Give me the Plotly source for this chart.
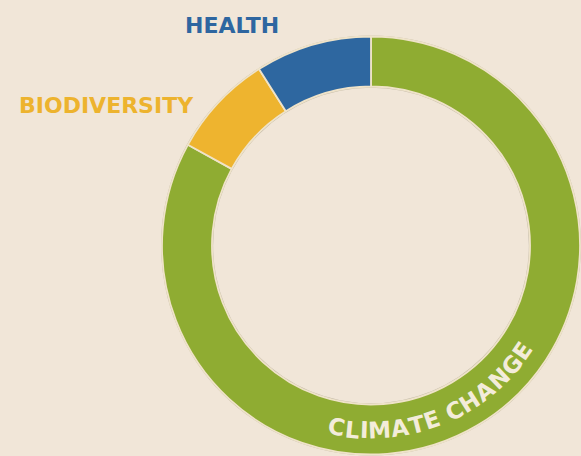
import math
import plotly.graph_objects as go

# Data
categories = ["CLIMATE CHANGE", "BIODIVERSITY", "HEALTH"]
values = [83, 8, 9]
colors = ["#8fac32", "#eeb42f", "#2e67a0"]

W, H = 581, 456
BG = "#f1e6d8"

# pie geometry (pixels)
cx, cy, R, r_in = 371, 245.5, 210, 159

def dom_x(c, rad):
    return [max(0, (c - rad) / W), min(1, (c + rad) / W)]

def dom_y(c, rad):
    return [max(0, 1 - (c + rad) / H), min(1, 1 - (c - rad) / H)]

fig = go.Figure()

# thin grey outline ring behind the main ring
fig.add_trace(go.Pie(
    values=[1], labels=["outline"], sort=False,
    marker=dict(colors=["#c4bba9"], line=dict(width=0)),
    hole=(r_in - 1.2) / R, textinfo="none", hoverinfo="skip", showlegend=False,
    domain=dict(x=dom_x(cx, R), y=dom_y(cy, R)),
))

R2 = R - 1
fig.add_trace(go.Pie(
    values=values, labels=categories, sort=False, direction="clockwise", rotation=0,
    marker=dict(colors=colors, line=dict(color="#efe3c9", width=1.8)),
    hole=r_in / R2, textinfo="none", hoverinfo="label+percent", showlegend=False,
    domain=dict(x=dom_x(cx, R2), y=dom_y(cy, R2)),
))

annotations = [
    dict(text="<b>HEALTH</b>", x=232 / W, y=1 - 25 / H, xref="paper", yref="paper",
         showarrow=False, xanchor="center", yanchor="middle",
         font=dict(family="DejaVu Sans", size=22, color="#2e66a0")),
    dict(text="<b>BIODIVERSITY</b>", x=106 / W, y=1 - 106 / H, xref="paper", yref="paper",
         showarrow=False, xanchor="center", yanchor="middle",
         font=dict(family="DejaVu Sans", size=22, color="#edb32e")),
]

# curved label along the climate-change slice
label = categories[0]
cw = {"C": .73, "L": .64, "I": .37, "M": .99, "A": .77, "T": .68, "E": .68, " ": .35,
      "H": .84, "N": .84, "G": .82}
widths = [cw[ch] for ch in label]
centers = []
acc = 0
for w in widths:
    centers.append(acc + w / 2)
    acc += w
start_deg, end_deg = 190.6, 124.9
r_txt = 185
span = centers[-1] - centers[0]
for ch, c in zip(label, centers):
    if ch == " ":
        continue
    t = start_deg + (end_deg - start_deg) * (c - centers[0]) / span
    th = math.radians(t)
    px = cx + r_txt * math.sin(th)
    py = cy - r_txt * math.cos(th)
    annotations.append(dict(
        text="<b>%s</b>" % ch, x=px / W, y=1 - py / H, xref="paper", yref="paper",
        showarrow=False, xanchor="center", yanchor="middle", textangle=t - 180,
        font=dict(family="DejaVu Sans", size=23, color="#f3ecda"),
    ))

fig.update_layout(
    width=W, height=H, margin=dict(l=0, r=0, t=0, b=0),
    paper_bgcolor=BG, plot_bgcolor=BG, annotations=annotations,
)

fig.write_html("out.html", config={"displayModeBar": False},
               post_script="document.body.style.margin='0';document.body.style.overflow='hidden';document.body.style.background='%s';" % BG)
